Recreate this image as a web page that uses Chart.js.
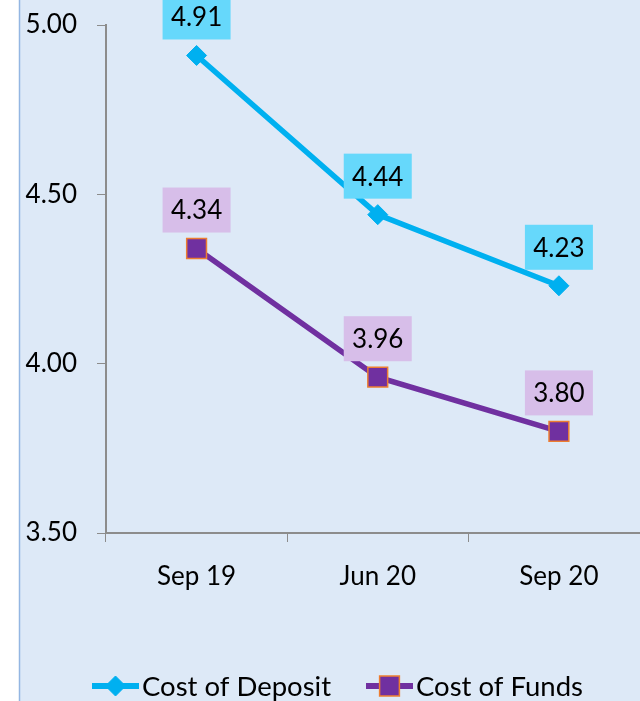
<!DOCTYPE html>
<html>
<head>
<meta charset="utf-8">
<script src="https://cdn.jsdelivr.net/npm/chart.js@4/dist/chart.umd.min.js"></script>
<style>
  html, body { margin: 0; padding: 0; overflow: hidden; background: #fff; }
  #wrap { width: 640px; height: 701px; overflow: hidden; }
</style>
</head>
<body>
<div id="wrap"><canvas id="chart" width="665" height="701"></canvas></div>
<script>
let periods = ['Sep 19', 'Jun 20', 'Sep 20'];
let costOfDeposit = [4.91, 4.44, 4.23];
let costOfFunds = [4.34, 3.96, 3.80];
let yTicks = { min: 3.5, max: 5.0, step: 0.5 };

let font = 'Lato, "Open Sans", sans-serif';

// light blue backdrop with the thin frame line on the left
let backdrop = {
    id: 'backdrop',
    beforeDraw(chart) {
        let ctx = chart.ctx;
        ctx.save();
        ctx.fillStyle = '#ffffff';
        ctx.fillRect(0, 0, chart.width, chart.height);
        ctx.fillStyle = '#dde9f7';
        ctx.fillRect(19, 0, chart.width - 19, chart.height);
        ctx.strokeStyle = '#93b6e2';
        ctx.lineWidth = 1.5;
        ctx.beginPath();
        ctx.moveTo(19.5, 0);
        ctx.lineTo(19.5, chart.height);
        ctx.stroke();
        ctx.restore();
    }
};

// value boxes above every point
let valueBoxes = {
    id: 'valueBoxes',
    afterDatasetsDraw(chart) {
        let ctx = chart.ctx;
        ctx.save();
        ctx.font = '26px ' + font;
        ctx.textAlign = 'center';
        ctx.textBaseline = 'middle';
        chart.data.datasets.forEach((ds, i) => {
            let meta = chart.getDatasetMeta(i);
            meta.data.forEach((pt, j) => {
                let w = 68, h = 45;
                let bottom = pt.y - 16;
                ctx.fillStyle = ds.boxColor;
                ctx.fillRect(pt.x - w / 2, bottom - h, w, h);
                ctx.fillStyle = '#000';
                ctx.fillText(ds.data[j].toFixed(2), pt.x, bottom - h / 2 + 1);
            });
        });
        ctx.restore();
    }
};

function marker(ctx, ds, x, y) {
    ctx.fillStyle = ds.pointBackgroundColor;
    ctx.strokeStyle = ds.pointBorderColor;
    ctx.lineWidth = ds.pointBorderWidth;
    ctx.beginPath();
    if (ds.pointStyle == 'rectRot') {
        let r = ds.pointRadius;
        ctx.moveTo(x, y - r);
        ctx.lineTo(x + r, y);
        ctx.lineTo(x, y + r);
        ctx.lineTo(x - r, y);
        ctx.closePath();
    } else {
        let s = ds.pointRadius * Math.SQRT1_2;
        ctx.rect(x - s, y - s, 2 * s, 2 * s);
    }
    ctx.fill();
    ctx.stroke();
}

// legend drawn as line + marker + text, like the office chart
let lineLegend = {
    id: 'lineLegend',
    afterDraw(chart) {
        let ctx = chart.ctx;
        let y = 686;
        let starts = [92, 366];
        ctx.save();
        ctx.font = '27.5px ' + font;
        ctx.textBaseline = 'middle';
        ctx.textAlign = 'left';
        chart.data.datasets.forEach((ds, i) => {
            let x = starts[i];
            ctx.strokeStyle = ds.borderColor;
            ctx.lineWidth = 6;
            ctx.beginPath();
            ctx.moveTo(x, y);
            ctx.lineTo(x + 47, y);
            ctx.stroke();
            marker(ctx, ds, x + 23.5, y);
            ctx.fillStyle = '#000';
            ctx.fillText(ds.label, x + 50, y + 1);
        });
        ctx.restore();
    }
};

let chart = new Chart(document.getElementById('chart'), {
    type: 'line',
    data: {
        labels: periods,
        datasets: [{
            label: 'Cost of Deposit',
            data: costOfDeposit,
            borderColor: '#00b0f0',
            borderWidth: 5.5,
            pointStyle: 'rectRot',
            pointRadius: 10,
            pointBackgroundColor: '#00b0f0',
            pointBorderColor: '#00b0f0',
            pointBorderWidth: 1,
            boxColor: '#66d8fb',
            tension: 0
        }, {
            label: 'Cost of Funds',
            data: costOfFunds,
            borderColor: '#7030a0',
            borderWidth: 5.5,
            pointStyle: 'rect',
            pointRadius: 14,
            pointBackgroundColor: '#7030a0',
            pointBorderColor: '#ed7d31',
            pointBorderWidth: 1.5,
            boxColor: '#d7bee9',
            tension: 0
        }]
    },
    options: {
        responsive: false,
        animation: false,
        layout: { padding: { top: 25, right: 14, left: 0, bottom: 0 } },
        plugins: {
            legend: { display: false },
            tooltip: { enabled: false }
        },
        scales: {
            x: {
                offset: true,
                grid: {
                    display: true,
                    drawOnChartArea: false,
                    drawTicks: true,
                    tickLength: 9,
                    color: '#8c8c8c',
                    offset: true
                },
                border: { color: '#8c8c8c', width: 2 },
                ticks: {
                    color: '#000',
                    padding: 19,
                    font: { family: font, size: 26 }
                },
                afterFit(scale) {
                    scale.height = 168;
                    scale.paddingLeft = 0;
                    scale.paddingRight = 0;
                }
            },
            y: {
                min: yTicks.min,
                max: yTicks.max,
                grid: {
                    display: true,
                    drawOnChartArea: false,
                    drawTicks: true,
                    tickLength: 9,
                    color: '#8c8c8c'
                },
                border: { color: '#8c8c8c', width: 2 },
                ticks: {
                    stepSize: yTicks.step,
                    color: '#000',
                    padding: 20,
                    font: { family: font, size: 26 },
                    callback: (v) => Number(v).toFixed(2)
                },
                afterFit(scale) {
                    scale.width = 106;
                    scale.paddingTop = 0;
                    scale.paddingBottom = 0;
                }
            }
        }
    },
    plugins: [backdrop, valueBoxes, lineLegend]
});
</script>
</body>
</html>
